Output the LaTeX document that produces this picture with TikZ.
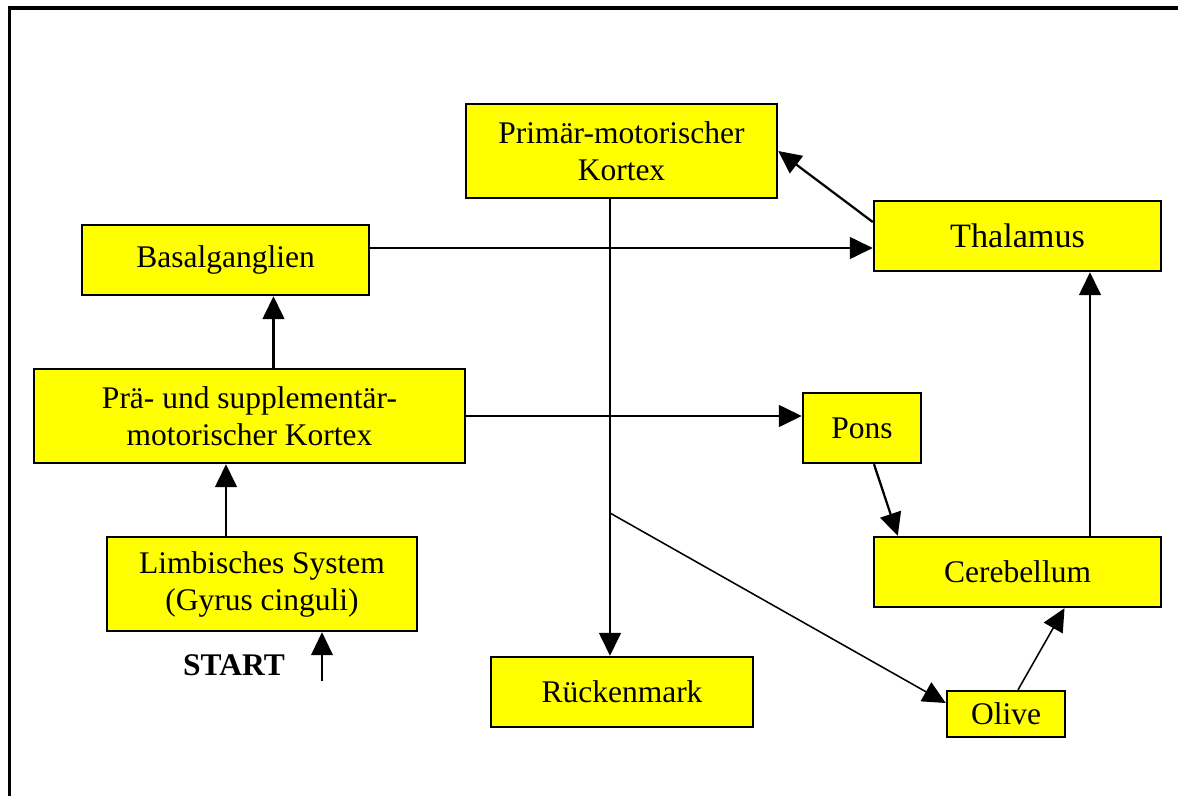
\documentclass[tikz,border=0pt]{standalone}
\usepackage{fontspec}
\setmainfont{Liberation Serif}
\usetikzlibrary{arrows.meta,calc}
\definecolor{boxyellow}{RGB}{255,255,0}

\begin{document}
\begin{tikzpicture}[x=0.025cm, y=-0.025cm,
    box_style/.style={rectangle, draw=black, fill=boxyellow, line width=1.7pt, align=center,
        font=\fontsize{22.4}{26.3}\selectfont},
    edge_style/.style={draw=black, line width=1.6pt, -{Triangle[length=0.57cm, width=0.54cm]}},
    thin_edge_style/.style={draw=black, line width=1.1pt, -{Triangle[length=0.57cm, width=0.54cm]}},
    frame_style/.style={draw=black, line width=2.8pt}]

    \useasboundingbox (0,0) rectangle (1178,796);
    \draw[frame_style] (9.5,796) -- (9.5,8) -- (1178,8);

    \node[box_style, minimum width=7.775cm, minimum height=2.35cm] (prim) at (621.5,151) {Primär-motorischer\\Kortex};
    \node[box_style, minimum width=7.175cm, minimum height=1.75cm, font=\fontsize{24.3}{28}\selectfont] (thal) at (1017.5,236) {Thalamus};
    \node[box_style, minimum width=7.175cm, minimum height=1.75cm] (basal) at (225.5,260) {Basalganglien};
    \node[box_style, minimum width=10.775cm, minimum height=2.35cm] (prae) at (249.5,416) {Prä- und supplementär-\\motorischer Kortex};
    \node[box_style, minimum width=2.95cm, minimum height=1.75cm] (pons) at (862,428) {Pons};
    \node[box_style, minimum width=7.175cm, minimum height=1.75cm] (cereb) at (1017.5,572) {Cerebellum};
    \node[box_style, minimum width=7.75cm, minimum height=2.35cm] (limb) at (262,584) {Limbisches System\\(Gyrus cinguli)};
    \node[box_style, minimum width=6.55cm, minimum height=1.75cm] (rueck) at (622,692) {Rückenmark};
    \node[box_style, minimum width=2.95cm, minimum height=1.15cm] (olive) at (1006,714) {\raisebox{-0.12cm}{Olive}};
    \node[font=\fontsize{22.4}{26.3}\selectfont\bfseries] (start_label) at (234,665) {START};

    \coordinate (spine) at (610,513);
    \coordinate (start) at (322,681);

    \draw[edge_style] ($(thal.west)+(0,-14)$) -- (prim.east);
    \draw[edge_style] ($(basal.east)+(0,-12)$) coordinate (b1) -- (b1 -| thal.west);
    \draw[edge_style] ($(prae.north)+(24,0)$) coordinate (p1) -- (p1 |- basal.south);
    \draw[edge_style] (prae.east) -- (prae.east -| pons.west);
    \draw[edge_style] ($(limb.north)+(-36,0)$) coordinate (l1) -- (l1 |- prae.south);
    \draw[edge_style] ($(pons.south)+(12,0)$) -- ($(cereb.north west)+(25,0)$);
    \draw[edge_style] ($(cereb.north)+(72.5,0)$) coordinate (c1) -- (c1 |- thal.south);
    \draw[edge_style] (prim.south -| spine) -- (rueck.north -| spine);
    \draw[thin_edge_style] (spine) -- ($(olive.west)+(0,-11)$);
    \draw[thin_edge_style] ($(olive.north)+(12,0)$) -- ($(cereb.south)+(47,0)$);
    \draw[thin_edge_style] (start) -- (start |- limb.south);
\end{tikzpicture}
\end{document}
